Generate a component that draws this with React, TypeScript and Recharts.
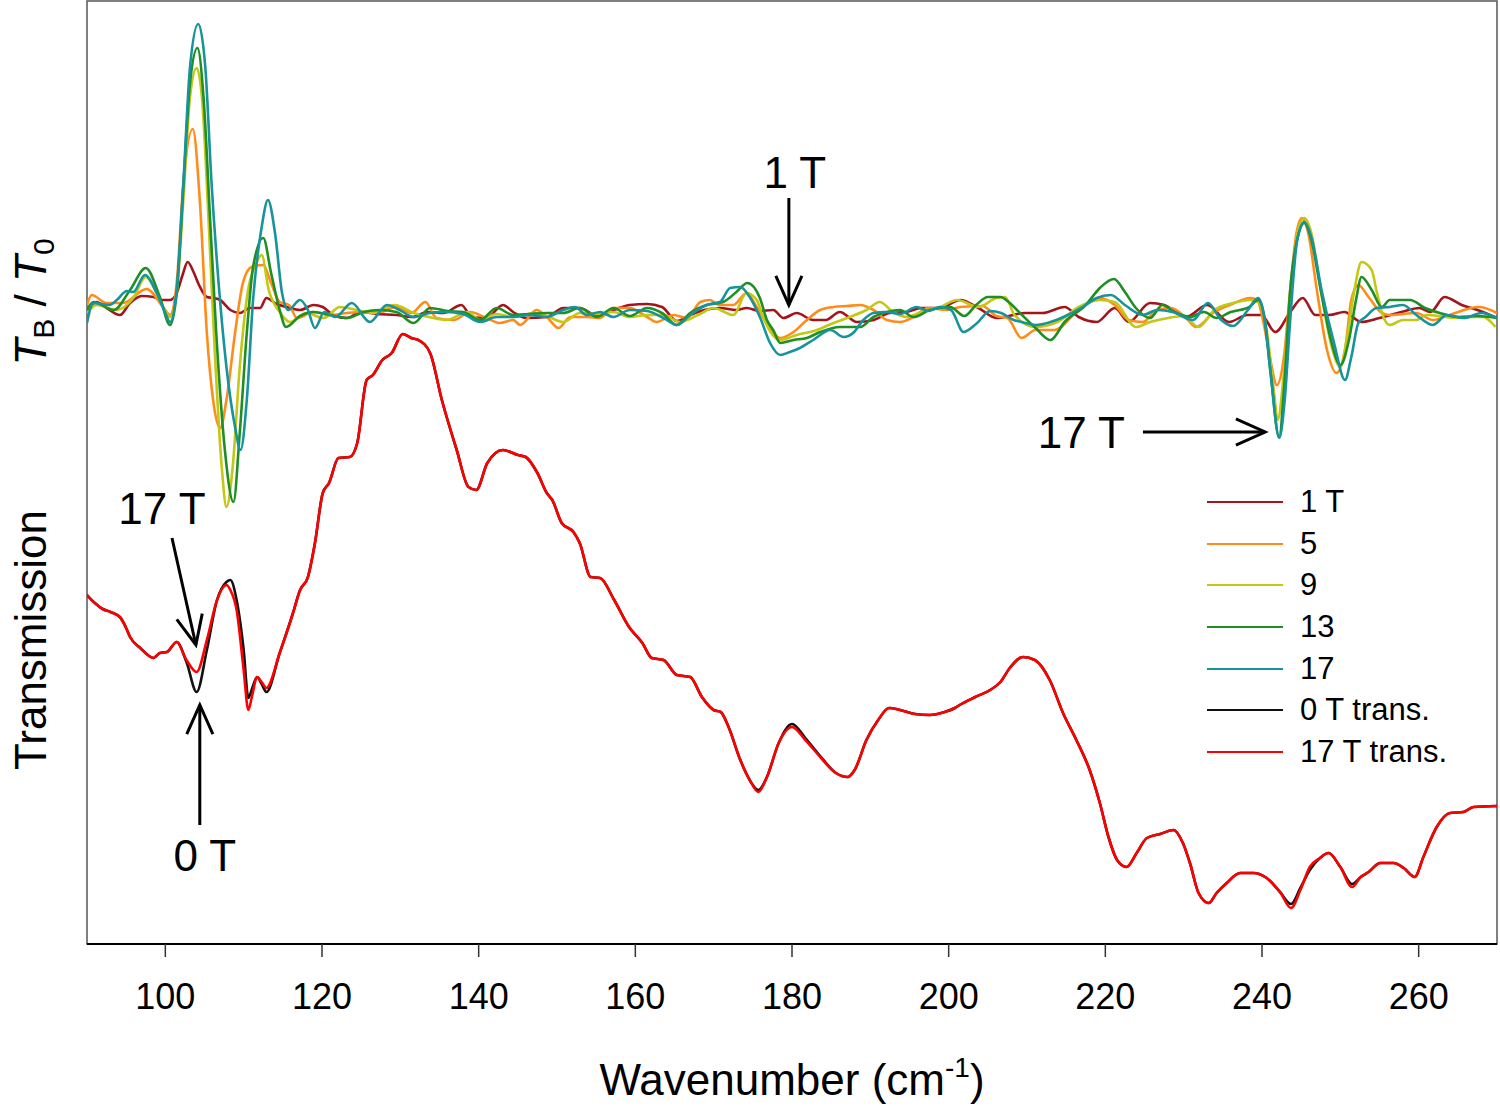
import React from "react";
import {
  LineChart,
  Line,
  XAxis,
  YAxis,
  ReferenceLine,
  ReferenceArea,
  Legend,
} from "recharts";

type Pt = [number, number];

const FONT = "'Liberation Sans', Arial, Helvetica, sans-serif";

// x: wavenumber (cm-1)
const wavenumberTicks = [100, 120, 140, 160, 180, 200, 220, 240, 260];

// T_B / T_0 traces, stored as (ratio - 1) x 10^4 (offset baseline)
const ratio1T: Pt[] = [
  [90, 5], [91.2, 13], [92.5, 7], [94.2, 0], [95.5, 12], [97, 19], [98.5, 18], [99.5, 15],
  [100.6, 15], [101.45, 22], [102.2, 40], [102.85, 53], [103.6, 43], [104.3, 30], [105.3, 18],
  [106.1, 17], [107, 15], [108.3, 5], [109.5, 2], [110.8, 7], [112.1, 7], [112.9, 17], [114.2, 11],
  [115.5, 8], [117.2, 5], [118.9, 10], [120.1, 8], [121.4, 0], [123.2, -3], [124.9, 3], [127, 1],
  [129.5, 0], [131.6, -2], [133.4, 3], [135.5, 2], [137.8, 10], [139.1, -2], [141, -3], [143.1, 10],
  [144.4, 3], [146.1, -3], [148.7, -2], [150.8, 7], [152.9, 7], [155, 0], [157.2, 5], [159.3, 10],
  [161.5, 11], [163.4, 8], [165.3, -6], [167, 0], [168.8, 5], [170.8, 7], [172.9, 5], [174.2, 7],
  [175.9, 4], [177.6, 5], [178.9, -3], [180.6, 2], [182.7, -5], [184.3, -5], [186.1, 3], [188.3, -7],
  [190.4, -5], [192.5, 2], [194.6, 3], [196.5, 7], [198.8, 7], [201.5, 15], [203.8, 7], [206.1, -3],
  [209.8, 2], [212, 2], [214.8, 8], [216.6, -2], [218.9, -7], [221.2, 7], [223, -7], [225.7, 12],
  [227.5, 10], [230.3, -2], [233, 10], [235.8, -7], [238.1, 0], [239.9, 0], [241.7, -17], [243.6, 3],
  [245.2, 17], [246.8, 0], [248.6, 0], [250.5, 3], [252.7, -7], [255, -3], [257.8, 3], [260.1, 7],
  [261.5, 3], [263.3, 18], [265.5, 10], [267.5, 5], [270, -3],
];

const ratio5T: Pt[] = [
  [90, 10], [90.6, 20], [92.5, 12], [94.6, 12], [97.6, 26], [99.7, 8], [100.6, 0], [101.45, 32],
  [102.3, 132], [103.5, 186], [104.4, 115], [105.3, -18], [106.1, -85], [107, -113], [107.8, -85],
  [108.9, -18], [109.9, 32], [111, 48], [112.5, 50], [113.5, 32], [114.6, 13], [115.8, 10],
  [116.8, -3], [118.9, 3], [121, 0], [123.2, 2], [125.3, 3], [127.4, 3], [129.5, 8], [131.4, 2],
  [133.2, 13], [134.6, -3], [136.8, -5], [138.9, 3], [141, -3], [142.7, -8], [144.4, -5], [145.3, -10],
  [147.4, 5], [148.7, -2], [150.2, -13], [151.7, -2], [153.8, -2], [155.5, -3], [157.2, 7], [159.3, 7],
  [161.5, -2], [162.7, -7], [164.9, 0], [166.6, -3], [168.3, 13], [169.5, 15], [170.8, 10], [172.5, 10],
  [174.2, 22], [175.5, 8], [176.8, -8], [178.5, -23], [180.2, -17], [181.9, -5], [183.6, 5], [185.3, 8],
  [187, 9], [188.7, 10], [190.4, 5], [192.1, -5], [193.8, -7], [195.5, -2], [197.4, 7], [199.7, 5],
  [201.5, 8], [204.3, 9], [206.1, -1], [207.5, -3], [209.3, -23], [211.1, -15], [213.5, -15], [216.6, 5],
  [219.3, 17], [221.2, 10], [223, -5], [224.8, -7], [226.6, 5], [228.4, 7], [230.3, -3], [231.6, -12],
  [233.9, 3], [235.9, 10], [238.5, 17], [239.4, 15], [240.2, -8], [241, -42], [241.9, -70], [242.8, -42],
  [243.6, 25], [244.4, 82], [245.1, 97], [245.9, 82], [247, 25], [248.3, -35], [249.5, -58], [250.6, -35],
  [251.4, 15], [252.3, 30], [253.6, 18], [255.3, 2], [256.3, 0], [259.7, 2], [261.8, -5], [263.9, 0],
  [267.7, 8], [270, 2],
];

const ratio9T: Pt[] = [
  [90, 2], [91.2, 10], [93.8, 5], [95.9, 17], [97.5, 38], [99.7, 8], [100.6, -2], [101.45, 22],
  [102.3, 115], [103.15, 218], [104, 247], [104.7, 215], [105.5, 98], [106.3, -35], [107.2, -152],
  [107.8, -192], [108.6, -152], [109.5, -52], [110.5, 22], [111.6, 52], [112.3, 60], [113.2, 25],
  [114.6, 3], [115.9, -7], [118, 2], [120.2, -3], [122.3, 8], [124.4, 5], [126.5, 2], [129.3, 10],
  [131.7, 2], [134.2, -3], [135.9, -5], [138.5, 3], [140.2, -5], [142.3, 1], [144.4, -2], [147, 2],
  [148.7, -1], [150.8, -7], [152.9, 2], [155, 1], [157.2, 3], [159.3, -2], [161.5, 0], [163.6, 0],
  [165.7, -7], [168, 0], [170, 7], [172.5, 0], [174.2, 22], [175.5, 15], [176.3, -2], [178.5, -25],
  [180.6, -20], [183.2, -15], [185.3, -8], [187.4, -2], [189.5, 5], [191.2, 13], [192.9, 3], [194.6, -2],
  [196.5, 3], [198.9, 8], [201.1, 15], [203.8, 8], [206.1, 17], [207.2, 18], [208.4, 0], [211.1, -12],
  [213.9, -7], [216.6, 8], [219.3, 15], [221.2, 13], [223.9, -12], [225.7, -7], [228, -3], [230, -1],
  [231.9, -12], [233.9, 5], [236.3, 12], [238.5, 15], [239.5, 13], [240.6, -15], [241.5, -75],
  [242, -105], [242.8, -58], [243.9, 42], [244.7, 88], [245.4, 97], [246.3, 82], [247.5, 25], [249, -35],
  [250, -52], [250.8, -25], [251.8, 25], [252.7, 53], [254, 45], [254.6, 25], [255.5, -2], [256.3, -10],
  [258, -5], [259.7, -5], [261, 0], [262.7, -1], [264.7, -3], [266.5, -2], [268.2, -2], [269.8, -12],
];

const ratio13T: Pt[] = [
  [90, 5], [90.8, 13], [93.4, 5], [95.5, 25], [97.5, 47], [99.3, 18], [100.6, -10], [101.45, 22],
  [102.3, 128], [103.15, 232], [104.1, 267], [104.9, 215], [105.7, 98], [106.5, -18], [107.6, -135],
  [108.7, -187], [109.5, -118], [110.4, -18], [111.2, 48], [112.5, 77], [113.5, 42], [114.6, 5],
  [115.4, -12], [117.2, -1], [118.9, 3], [121, 0], [123.2, -3], [125.3, 3], [127.4, 5], [129.5, 3],
  [131.7, -8], [133.8, 7], [136, 4], [138, 3], [140.2, -5], [142.3, 7], [144.4, 0], [146.5, 1],
  [148.7, 2], [150.8, 2], [152.9, 7], [155.1, -2], [157.2, 7], [159.3, -1], [161.5, 7], [163.4, 2],
  [165.3, -10], [167, 2], [169.1, 10], [171.2, 13], [172.9, 23], [174.3, 32], [175.9, 17], [176.8, -5],
  [177.6, -15], [178.5, -28], [180.2, -25], [181.9, -23], [183.6, -17], [186.1, -12], [188.7, -12],
  [190.4, -2], [192.1, 3], [193.8, 5], [195.5, -2], [197.6, 5], [200.2, 8], [202, -1], [203.5, 10],
  [205, 18], [206.6, 18], [207.8, 12], [209.1, 2], [211.1, -13], [213, -25], [214.8, -7], [217.5, 10],
  [219.3, 27], [221.1, 36], [222.5, 23], [223.9, 7], [225.7, -3], [227.3, 10], [228.8, 3], [230.8, -2],
  [232.6, 3], [234.2, -3], [236, 3], [238.4, 8], [239.5, 15], [240.3, -2], [241.1, -58], [242.2, -122],
  [242.8, -75], [243.6, 25], [244.7, 82], [245.4, 92], [246.3, 75], [247.5, 25], [248.8, -25],
  [250, -50], [251.1, -25], [252, 15], [252.7, 38], [254, 25], [255.3, 8], [256.3, 15], [258.9, 15],
  [260.8, 7], [262.7, 2], [265, -2], [267.5, -1], [269.9, -3],
];

const ratio17T: Pt[] = [
  [90, -8], [90.8, 12], [92.9, 10], [93.8, 15], [95.1, 24], [95.9, 23], [97.4, 40], [98.9, 22],
  [100, 2], [100.6, -7], [101.45, 25], [102.3, 132], [103.15, 248], [104.2, 291], [105.1, 248],
  [105.9, 132], [106.8, 32], [107.8, -52], [108.9, -112], [109.6, -135], [110.4, -85], [111.2, 15],
  [112.3, 88], [113.1, 115], [114, 82], [114.9, 22], [115.7, 5], [117.2, 15], [118.2, 5], [119.1, -13],
  [120.3, 3], [121.7, -2], [123.8, 12], [126.1, -7], [128.3, 10], [129.9, 5], [131.7, -2], [133.8, 2],
  [135.9, 3], [138, 1], [140.2, -7], [142.3, -2], [144.4, -2], [146.5, 0], [148.7, -2], [150.8, 5],
  [152.3, 8], [153.8, 0], [155.5, 3], [157.2, -2], [159.3, 5], [161.5, 4], [163.6, -3], [165.3, -10],
  [167, 0], [169.1, 10], [170.8, 13], [172.1, 27], [173.4, 28], [174.6, 18], [175.9, -2], [177.2, -28],
  [178.5, -40], [179.7, -37], [181, -33], [182.7, -25], [184.9, -15], [186.6, -22], [187.8, -18],
  [189.1, -5], [190.4, 2], [192, 3], [193.8, 1], [195.9, 8], [197.4, 4], [198.9, 8], [200.3, 5],
  [201.9, -17], [203.5, -9], [205.3, 4], [206.7, 2], [208.3, -5], [209.3, -7], [211.1, -10], [213, -7],
  [215.2, 0], [217.5, 10], [218.9, 17], [220.7, 20], [222.5, 10], [224.8, 0], [226.6, 5], [228.6, 3],
  [231.2, -5], [233.1, 12], [234.8, -5], [236.3, -11], [238.2, 5], [239.5, 17], [240.3, -2],
  [241.1, -58], [242.2, -123], [242.9, -85], [243.6, -5], [244.5, 75], [245.4, 93], [246.4, 75],
  [247.6, 25], [249.2, -28], [250.6, -65], [251.4, -42], [252.3, -8], [253.2, -2], [254.6, 7],
  [256.3, 8], [258, 10], [259.7, 0], [261.8, -10], [263.6, 0], [265.8, -3], [268, 2], [270, -3],
];

// transmission, arbitrary units
const trans0T: Pt[] = [
  [90, 349], [91, 341], [92, 335], [93, 332], [94.2, 327], [95, 316], [95.5, 307], [96.8, 296],
  [98.5, 286], [99.3, 291], [100.2, 292], [101.45, 302], [102.7, 282], [104, 252], [105.3, 294],
  [106.6, 344], [107.8, 362], [108.3, 364], [109.1, 344], [110, 294], [110.6, 246], [111.1, 256],
  [111.7, 267], [112.3, 260], [112.9, 252], [114.6, 291], [116.3, 331], [117.2, 354], [118.2, 367],
  [119.1, 401], [120.1, 451], [120.9, 461], [122.1, 486], [123.55, 487], [124.5, 501], [125.7, 564],
  [126.5, 569], [127.7, 584], [128.9, 591], [130.3, 610], [131.4, 606], [132.3, 604], [133.8, 591],
  [135.3, 544], [137.2, 494], [138.7, 457], [139.7, 454], [141.1, 481], [143.1, 494], [145, 489],
  [146, 487], [147.5, 471], [148.7, 451], [149.4, 444], [150.6, 421], [152.1, 412], [152.9, 401],
  [154.3, 367], [155.5, 366], [157.3, 344], [159.2, 317], [160.9, 301], [162.1, 286], [163.6, 284],
  [165.3, 269], [167, 267], [168.5, 247], [170, 234], [170.9, 232], [171.9, 217], [173.4, 184],
  [174.6, 164], [175.7, 154], [176.8, 167], [178.3, 201], [180, 220], [181.7, 206], [183.6, 188],
  [185.6, 171], [187.1, 167], [188, 174], [189.5, 204], [191, 224], [192.4, 236], [193.8, 234],
  [195.7, 230], [197.6, 229], [199.5, 232], [200.8, 236], [201.4, 239], [203.4, 247], [205.3, 254],
  [206.6, 262], [207.8, 276], [209.5, 287], [211, 284], [212.9, 264], [214.6, 231], [216.3, 204],
  [218, 174], [219.3, 141], [220.4, 107], [221.5, 84], [222.7, 77], [224, 91], [225.3, 106], [227, 110],
  [228.7, 114], [229.9, 101], [230.8, 81], [231.9, 51], [233.2, 41], [234.2, 51], [235.5, 61],
  [237.2, 71], [238.9, 71], [240.6, 66], [242.3, 52], [243.7, 40], [244.9, 56], [246.1, 74],
  [247.4, 86], [248.5, 91], [250, 77], [251.5, 60], [252.6, 67], [253.6, 72], [255.1, 81], [256.8, 81],
  [258.1, 76], [259.5, 67], [260.6, 87], [262.3, 117], [264, 131], [265.7, 132], [267, 137], [270, 138],
];

const trans17T: Pt[] = [
  [90, 349], [91, 341], [92, 335], [93, 332], [94.2, 327], [95, 316], [95.5, 307], [96.8, 296],
  [98.5, 286], [99.3, 291], [100.2, 292], [101.45, 302], [102.7, 284], [104, 272], [105.3, 304],
  [106.6, 344], [107.8, 359], [108.3, 354], [109.1, 334], [110, 274], [110.6, 234], [111.1, 249],
  [111.7, 267], [112.3, 262], [112.9, 256], [114.6, 291], [116.3, 331], [117.2, 354], [118.2, 367],
  [119.1, 401], [120.1, 451], [120.9, 461], [122.1, 486], [123.55, 487], [124.5, 501], [125.7, 564],
  [126.5, 569], [127.7, 584], [128.9, 591], [130.3, 610], [131.4, 606], [132.3, 604], [133.8, 591],
  [135.3, 544], [137.2, 494], [138.7, 457], [139.7, 454], [141.1, 481], [143.1, 494], [145, 489],
  [146, 487], [147.5, 471], [148.7, 451], [149.4, 444], [150.6, 421], [152.1, 412], [152.9, 401],
  [154.3, 367], [155.5, 366], [157.3, 344], [159.2, 317], [160.9, 301], [162.1, 286], [163.6, 284],
  [165.3, 269], [167, 267], [168.5, 247], [170, 234], [170.9, 232], [171.9, 217], [173.4, 184],
  [174.6, 164], [175.7, 152], [176.8, 167], [178.3, 201], [180, 217], [181.7, 204], [183.6, 187],
  [185.6, 171], [187.1, 167], [188, 174], [189.5, 204], [191, 224], [192.4, 236], [193.8, 234],
  [195.7, 230], [197.6, 229], [199.5, 232], [200.8, 236], [201.4, 239], [203.4, 247], [205.3, 254],
  [206.6, 262], [207.8, 276], [209.5, 287], [211, 284], [212.9, 264], [214.6, 231], [216.3, 204],
  [218, 174], [219.3, 141], [220.4, 107], [221.5, 84], [222.7, 77], [224, 91], [225.3, 106], [227, 110],
  [228.7, 114], [229.9, 101], [230.8, 81], [231.9, 51], [233.2, 41], [234.2, 51], [235.5, 61],
  [237.2, 71], [238.9, 71], [240.6, 66], [242.3, 52], [243.7, 36], [244.9, 54], [246.1, 77],
  [247.4, 86], [248.5, 91], [250, 77], [251.5, 57], [252.6, 67], [253.6, 72], [255.1, 81], [256.8, 81],
  [258.1, 76], [259.5, 67], [260.6, 87], [262.3, 117], [264, 131], [265.7, 132], [267, 137], [270, 138],
];

const series = [
  { name: "1 T", color: "#a3141b", axis: "ratio", data: ratio1T },
  { name: "5", color: "#ff8c1a", axis: "ratio", data: ratio5T },
  { name: "9", color: "#c4c714", axis: "ratio", data: ratio9T },
  { name: "13", color: "#1f8f24", axis: "ratio", data: ratio13T },
  { name: "17", color: "#17939c", axis: "ratio", data: ratio17T },
  { name: "0 T trans.", color: "#111111", axis: "trans", data: trans0T },
  { name: "17 T trans.", color: "#ff0000", axis: "trans", data: trans17T },
];

const toRows = (pts: Pt[]) => pts.map(([x, y]) => ({ x, y }));

// arrow annotations: label, axis, tail, head
const arrows = [
  { label: "1 T", axis: "ratio", from: { x: 179.6, y: 117 }, to: { x: 179.6, y: 10 }, dx: 6, dy: -10, anchor: "middle" },
  { label: "17 T", axis: "ratio", from: { x: 224.8, y: -117 }, to: { x: 240.4, y: -117 }, dx: -18, dy: 16, anchor: "end" },
  { label: "17 T", axis: "trans", from: { x: 100.85, y: 406 }, to: { x: 103.9, y: 299 }, dx: -10, dy: -14, anchor: "middle" },
  { label: "0 T", axis: "trans", from: { x: 104.4, y: 119 }, to: { x: 104.4, y: 239 }, dx: 5, dy: 46, anchor: "middle" },
];

function arrowShape(label: string, dx: number, dy: number, anchor: string) {
  return (props: any) => {
    const { x1, y1, x2, y2 } = props;
    const ang = Math.atan2(y2 - y1, x2 - x1);
    const len = 32;
    const spread = 0.42;
    const a1x = x2 - len * Math.cos(ang - spread);
    const a1y = y2 - len * Math.sin(ang - spread);
    const a2x = x2 - len * Math.cos(ang + spread);
    const a2y = y2 - len * Math.sin(ang + spread);
    return (
      <g>
        <line x1={x1} y1={y1} x2={x2} y2={y2} stroke="#000" strokeWidth={3} />
        <polyline
          points={`${a1x},${a1y} ${x2},${y2} ${a2x},${a2y}`}
          fill="none"
          stroke="#000"
          strokeWidth={3}
        />
        <text
          x={x1 + dx}
          y={y1 + dy}
          textAnchor={anchor as any}
          fontSize={44}
          fontFamily={FONT}
          fill="#000"
        >
          {label}
        </text>
      </g>
    );
  };
}

const renderLegend = () => (
  <div style={{ fontFamily: FONT, fontSize: 31, color: "#000" }}>
    {series.map((s) => (
      <div key={s.name} style={{ display: "flex", alignItems: "center", height: 41.7 }}>
        <span
          style={{
            display: "inline-block",
            width: 76,
            borderTop: `2.5px solid ${s.color}`,
            marginRight: 17,
          }}
        />
        <span>{s.name}</span>
      </div>
    ))}
  </div>
);

export default function App() {
  return (
    <div style={{ position: "absolute", left: 0, top: 0, width: 1500, height: 1106, background: "#fff" }}>
      <LineChart
        width={1500}
        height={1106}
        margin={{ top: 1, right: 3, bottom: 0, left: 87 }}
      >
        <XAxis
          type="number"
          dataKey="x"
          domain={[90, 270]}
          ticks={wavenumberTicks}
          allowDataOverflow
          height={162}
          tickSize={13}
          tickMargin={26}
          axisLine={{ stroke: "#000", strokeWidth: 2 }}
          tickLine={{ stroke: "#333", strokeWidth: 1.5 }}
          tick={{ fontSize: 36, fill: "#000", fontFamily: FONT }}
        />
        <YAxis yAxisId="ratio" hide type="number" domain={[-629, 314]} allowDataOverflow />
        <YAxis yAxisId="trans" hide type="number" domain={[0, 943]} allowDataOverflow />
        <ReferenceArea
          yAxisId="ratio"
          x1={90}
          x2={270}
          y1={-629}
          y2={314}
          fill="none"
          stroke="#555"
          strokeWidth={1.5}
          ifOverflow="visible"
        />
        {series.map((s) => (
          <Line
            key={s.name}
            yAxisId={s.axis}
            data={toRows(s.data)}
            dataKey="y"
            name={s.name}
            type="monotone"
            stroke={s.color}
            strokeWidth={2.6}
            dot={false}
            activeDot={false}
            isAnimationActive={false}
          />
        ))}
        {arrows.map((a, i) => (
          <ReferenceLine
            key={i}
            yAxisId={a.axis}
            segment={[a.from, a.to]}
            ifOverflow="visible"
            shape={arrowShape(a.label, a.dx, a.dy, a.anchor)}
          />
        ))}
        <Legend
          layout="vertical"
          align="center"
          verticalAlign="middle"
          content={renderLegend}
          wrapperStyle={{ left: 1207, top: 481, width: 280 }}
        />
      </LineChart>
      <svg
        width={1500}
        height={1106}
        style={{ position: "absolute", left: 0, top: 0, pointerEvents: "none" }}
        fontFamily={FONT}
      >
        <text transform="translate(46,302) rotate(-90)" textAnchor="middle" fontSize={44} fill="#000">
          <tspan fontStyle="italic">T</tspan>
          <tspan fontSize={30} dy={8}>B</tspan>
          <tspan dy={-8}> / </tspan>
          <tspan fontStyle="italic">T</tspan>
          <tspan fontSize={30} dy={8}>0</tspan>
        </text>
        <text transform="translate(46,640) rotate(-90)" textAnchor="middle" fontSize={44} fill="#000">
          Transmission
        </text>
        <text x={792} y={1095} textAnchor="middle" fontSize={44} fill="#000">
          Wavenumber (cm
          <tspan fontSize={28} dy={-18}>-1</tspan>
          <tspan dy={18}>)</tspan>
        </text>
      </svg>
    </div>
  );
}
